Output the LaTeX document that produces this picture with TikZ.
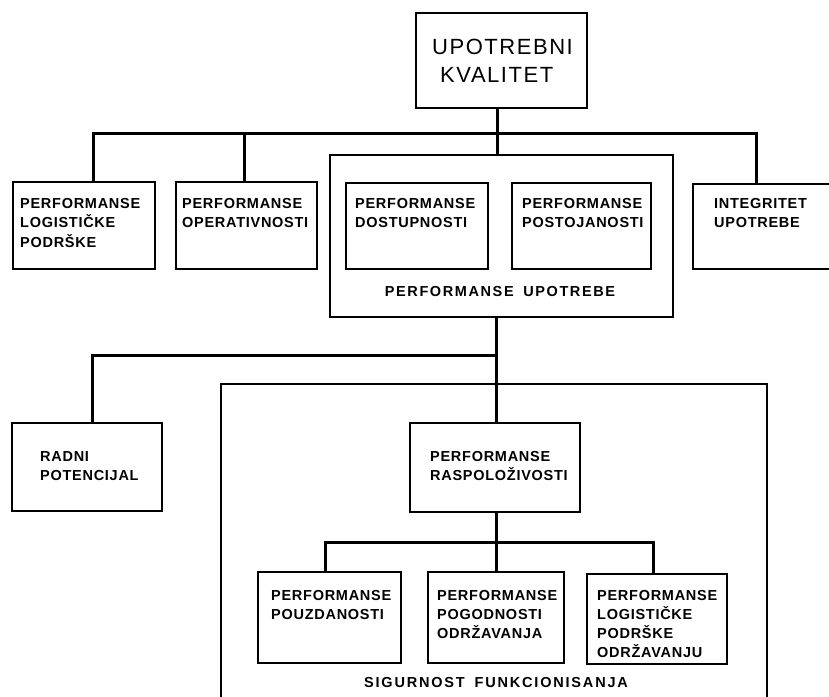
\documentclass[tikz,border=0pt]{standalone}
\usepackage{fontspec}
\setmainfont{Liberation Sans}
\newfontfamily\smallf[LetterSpace=5]{Liberation Sans}
\newfontfamily\bigf[LetterSpace=7]{Liberation Sans}
\newfontfamily\capf[LetterSpace=11]{Liberation Sans}
\newfontfamily\sigf[LetterSpace=12.5]{Liberation Sans}
\begin{document}
\begin{tikzpicture}[x=1pt,y=-1pt,
  box/.style={draw, line width=2.2pt, rectangle, inner sep=0pt, anchor=north west},
  conn/.style={line width=3pt},
  lbl/.style={anchor=north west, inner sep=0pt, align=left, font=\smallf\bfseries\fontsize{14.5}{19.5}\selectfont},
  chl/.style={lbl, font=\smallf\bfseries\fontsize{14.5}{19}\selectfont},
  toplbl/.style={anchor=north west, inner sep=0pt, align=left, font=\bigf\fontsize{22}{28}\selectfont},
  grplbl/.style={anchor=north, inner sep=0pt}]
\useasboundingbox (0,0) rectangle (829,696);
\clip (0,0) rectangle (829,696);
% boxes
\node[box, minimum width=171pt, minimum height=95pt] (top) at (415,12) {};
\node[box, minimum width=142pt, minimum height=87pt] (log) at (12,181) {};
\node[box, minimum width=141pt, minimum height=87pt] (oper) at (175,181) {};
\node[box, minimum width=343pt, minimum height=162pt] (upo) at (329,154) {};
\node[box, minimum width=142pt, minimum height=86pt] (dost) at (345,182) {};
\node[box, minimum width=139pt, minimum height=86pt] (post) at (511,182) {};
\node[box, minimum width=150pt, minimum height=85pt] (integ) at (692,183) {};
\node[box, minimum width=150pt, minimum height=88pt] (radni) at (11,422) {};
\node[box, minimum width=546pt, minimum height=330pt] (sig) at (220,383) {};
\node[box, minimum width=170pt, minimum height=89pt] (rasp) at (409,422) {};
\node[box, minimum width=143pt, minimum height=91pt] (pouz) at (257,571) {};
\node[box, minimum width=136pt, minimum height=91pt] (pogod) at (427,571) {};
\node[box, minimum width=140pt, minimum height=90pt] (logodr) at (586,573) {};
% texts
\node[toplbl] (ttop) at (432,39) {UPOTREBNI\\\hspace*{8pt}KVALITET};
\node[lbl] (tlog) at (20,198) {PERFORMANSE\\LOGISTIČKE\\PODRŠKE};
\node[lbl] (toper) at (182,198) {PERFORMANSE\\OPERATIVNOSTI};
\node[lbl] (tdost) at (355,198) {PERFORMANSE\\DOSTUPNOSTI};
\node[lbl] (tpost) at (522,198) {PERFORMANSE\\POSTOJANOSTI};
\node[lbl] (tinteg) at (714,198) {INTEGRITET\\UPOTREBE};
\node[grplbl, font=\capf\bfseries\fontsize{14.5}{17}\selectfont] (tupo) at (500,286) {PERFORMANSE\hspace{4pt} UPOTREBE};
\node[lbl] (tradni) at (40,451) {RADNI\\POTENCIJAL};
\node[lbl] (trasp) at (430,451) {PERFORMANSE\\RASPOLOŽIVOSTI};
\node[chl] (tpouz) at (271,590) {PERFORMANSE\\POUZDANOSTI};
\node[chl] (tpogod) at (437,590) {PERFORMANSE\\POGODNOSTI\\ODRŽAVANJA};
\node[chl] (tlogodr) at (597,590) {PERFORMANSE\\LOGISTIČKE\\PODRŠKE\\ODRŽAVANJU};
\node[grplbl, font=\sigf\bfseries\fontsize{14.5}{17}\selectfont] (tsig) at (496,677) {SIGURNOST\hspace{4pt} FUNKCIONISANJA};
% connector junctions
\coordinate (b1) at (497,133);
\coordinate (d1) at (93,133);
\coordinate (d2) at (244,133);
\coordinate (d4) at (756,133);
\coordinate (b2) at (496,355);
\coordinate (d5) at (92,355);
\coordinate (b3) at (496,542);
\coordinate (d6) at (325,542);
\coordinate (d7) at (653,542);
% connectors
\draw[conn] (top.south -| b1) -- (upo.north -| b1);
\draw[conn] (log.north -| d1) -- (d1) -- (d4) -- (integ.north -| d4);
\draw[conn] (d2) -- (oper.north -| d2);
\draw[conn] (upo.south -| b2) -- (rasp.north -| b2);
\draw[conn] (b2) -- (d5) -- (radni.north -| d5);
\draw[conn] (rasp.south -| b3) -- (pogod.north -| b3);
\draw[conn] (pouz.north -| d6) -- (d6) -- (d7) -- (logodr.north -| d7);
\end{tikzpicture}
\end{document}
